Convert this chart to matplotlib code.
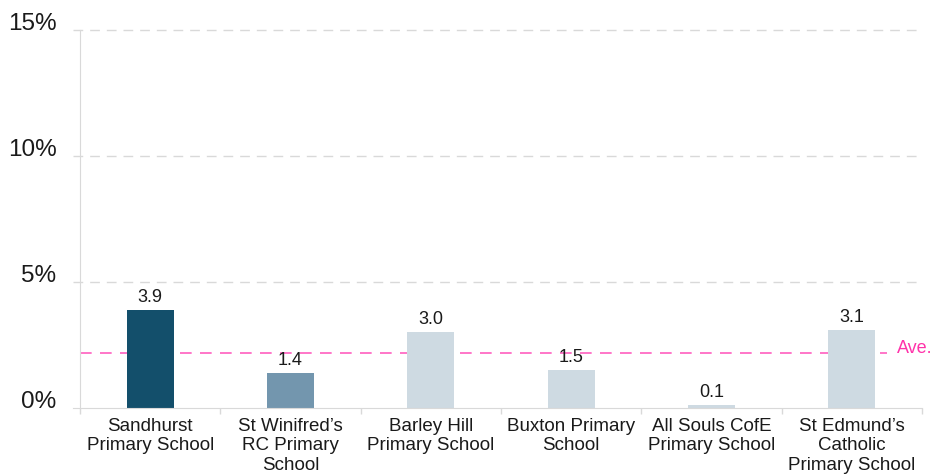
import matplotlib
matplotlib.use("Agg")
import matplotlib.pyplot as plt

categories = ["Sandhurst\nPrimary School", "St Winifred\u2019s\nRC Primary\nSchool",
              "Barley Hill\nPrimary School", "Buxton Primary\nSchool",
              "All Souls CofE\nPrimary School", "St Edmund\u2019s\nCatholic\nPrimary School"]
values = [3.9, 1.4, 3.0, 1.5, 0.1, 3.1]
labels = ["3.9", "1.4", "3.0", "1.5", "0.1", "3.1"]
average = 2.2
yticks = [0, 5, 10, 15]
ytick_labels = ["0%", "5%", "10%", "15%"]
colors = ["#134F6B", "#7396AE", "#CEDAE2", "#CEDAE2", "#CEDAE2", "#CEDAE2"]

plt.rcParams['font.family'] = ['Liberation Sans', 'DejaVu Sans']

fig = plt.figure(figsize=(9.33, 4.75), dpi=100)
ax = fig.add_axes([80/933, 1-408/475, 842/933, 378/475])

x = list(range(len(values)))
ax.set_xlim(-0.5, len(values) - 0.5)
ax.set_ylim(0, 15)

for v in yticks[1:]:
    ax.axhline(v, xmin=-7/842, xmax=1, color="#D9D9D9", lw=1, ls=(0, (7, 5)), clip_on=False, zorder=1)

ax.axhline(average, xmin=0, xmax=807/842, color="#FF5FBF", lw=1.2, ls=(0, (7, 5)), zorder=1)
ax.text(5.32, average + 0.18, "Ave.", color="#FF33AA", fontsize=13,
        ha="left", va="center", clip_on=False)

bars = ax.bar(x, values, width=0.335, color=colors, zorder=2)
for xi, v, lab in zip(x, values, labels):
    ax.annotate(lab, (xi, v), xytext=(0, 3), textcoords="offset points",
                ha="center", va="bottom", fontsize=13, color="#1A1A1A")

ax.set_yticks(yticks)
ax.set_yticklabels(ytick_labels, fontsize=17.5, color="#1A1A1A", va="baseline")
ax.tick_params(axis="y", length=0, pad=17)

ax.set_xticks(x)
ax.set_xticklabels(categories, fontsize=13.5, color="#1A1A1A", linespacing=1.2)
ax.set_xticks([i - 0.5 for i in range(len(values) + 1)], minor=True)
ax.tick_params(axis="x", which="major", length=0, pad=7)
ax.tick_params(axis="x", which="minor", length=4, color="#D9D9D9", width=1)

for s in ["top", "right"]:
    ax.spines[s].set_visible(False)
ax.spines["left"].set_color("#D9D9D9")
ax.spines["bottom"].set_color("#D9D9D9")
ax.spines["bottom"].set_bounds(-0.5 - 7/140, len(values) - 0.5)
ax.spines["bottom"].set_zorder(3)

fig.savefig("out.png", dpi=100)
